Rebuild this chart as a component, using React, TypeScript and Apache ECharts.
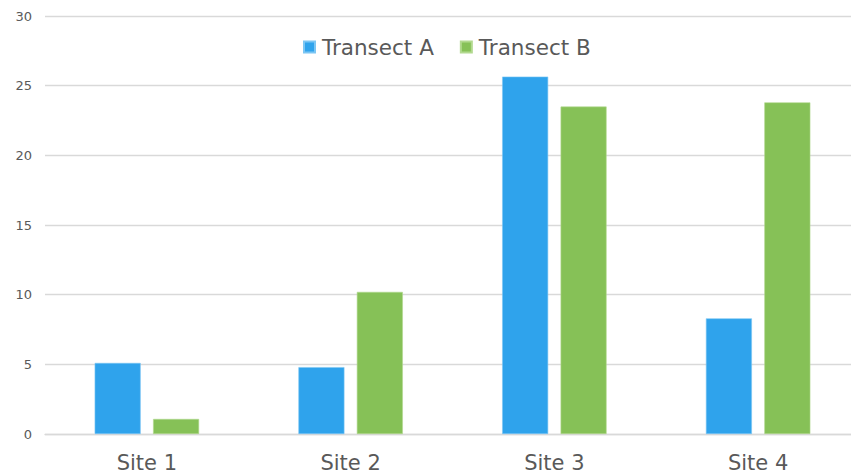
import React, { useEffect, useRef } from "react";
import * as echarts from "echarts";

// Counts recorded at each site along two transects
const sites = ["Site 1", "Site 2", "Site 3", "Site 4"];
const transectA = [5.1, 4.8, 25.65, 8.3];
const transectB = [1.08, 10.2, 23.5, 23.8];
const seriesNames = ["Transect A", "Transect B"];

const FONT = "'DejaVu Sans', sans-serif";
const TEXT_COLOR = "#595959";
const GRID_COLOR = "#d9d9d9";

export default function App() {
  const ref = useRef<HTMLDivElement>(null);

  useEffect(() => {
    if (!ref.current) return;
    const chart = echarts.init(ref.current, undefined, { renderer: "svg" });
    chart.setOption({
      animation: false,
      backgroundColor: "#ffffff",
      legend: {
        data: seriesNames,
        left: 303,
        top: 35,
        padding: 0,
        icon: "rect",
        itemWidth: 11,
        itemHeight: 11,
        itemGap: 26,
        textStyle: {
          color: TEXT_COLOR,
          fontFamily: FONT,
          fontSize: 21.5,
          lineHeight: 24,
          padding: [0, 0, 0, 2],
        },
      },
      grid: { left: 45, right: 0, top: 16, bottom: 42, containLabel: false },
      xAxis: {
        type: "category",
        data: sites,
        axisLine: { lineStyle: { color: GRID_COLOR, width: 1.3 } },
        axisTick: { show: false },
        axisLabel: {
          color: TEXT_COLOR,
          fontFamily: FONT,
          fontSize: 21,
          margin: 18,
        },
      },
      yAxis: {
        type: "value",
        min: 0,
        max: 30,
        interval: 5,
        axisLine: { show: false },
        axisTick: { show: false },
        splitLine: { lineStyle: { color: GRID_COLOR, width: 1.3 } },
        axisLabel: {
          color: TEXT_COLOR,
          fontFamily: FONT,
          fontSize: 13,
          margin: 13,
        },
      },
      series: [
        {
          name: seriesNames[0],
          type: "bar",
          data: transectA,
          barWidth: 46,
          barGap: "27%",
          itemStyle: { color: "#2fa3ec", borderColor: "#7cc6f3", borderWidth: 0.6 },
        },
        {
          name: seriesNames[1],
          type: "bar",
          data: transectB,
          barWidth: 46,
          barGap: "27%",
          itemStyle: { color: "#86c157", borderColor: "#b2d98f", borderWidth: 0.6 },
        },
      ],
    });
    return () => chart.dispose();
  }, []);

  // The plot area runs a little past the right edge of the window
  return (
    <div
      ref={ref}
      style={{ position: "fixed", left: 0, top: 0, width: 860, height: 476, background: "#fff" }}
    />
  );
}
